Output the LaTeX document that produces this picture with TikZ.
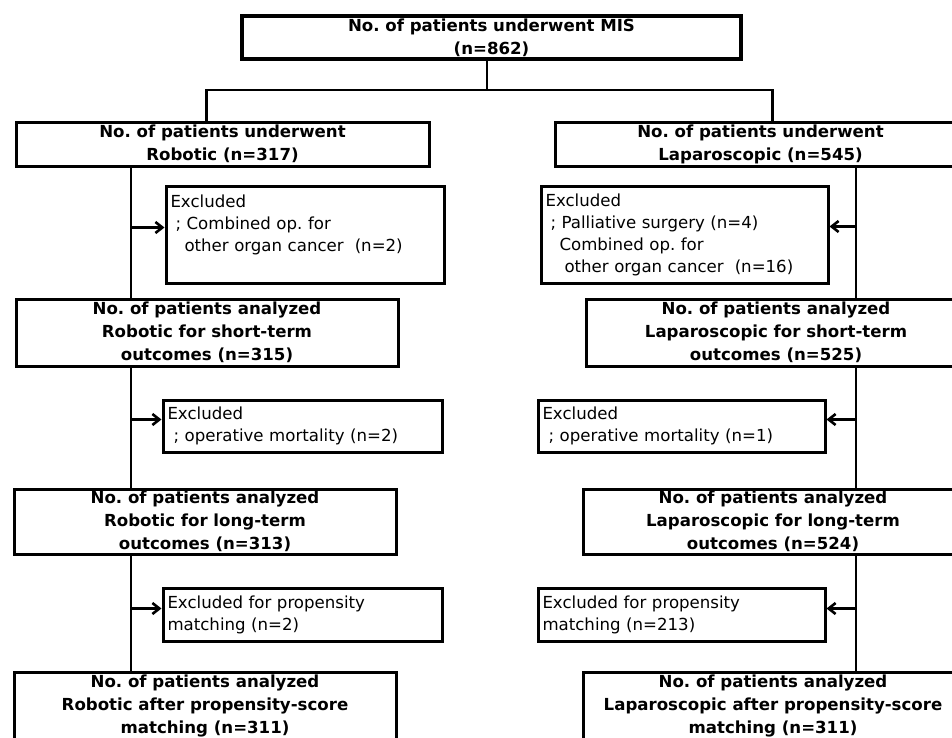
\documentclass[tikz,border=0pt]{standalone}
\usepackage{fontspec}
\setmainfont{DejaVu Sans}
\usetikzlibrary{arrows.meta}
\frenchspacing

\begin{document}
\begin{tikzpicture}[x=1pt, y=-1pt,
        mainbox/.style={rectangle, draw, line width=3pt, anchor=north west,
                     align=center, inner sep=0pt,
                     font=\fontsize{16.6}{23}\selectfont\bfseries},
        topbox/.style={mainbox, line width=4pt},
        exbox/.style={rectangle, draw, line width=3pt, anchor=north west,
                     align=left, inner xsep=4.5pt, inner ysep=0pt,
                     font=\fontsize{16.6}{22}\selectfont},
        link/.style={line width=2.6pt},
        arr/.style={-{Straight Barb[length=7pt, width=11pt]}, line width=2.6pt}
    ]
        \useasboundingbox (0,0) rectangle (952,737);
        \clip (0,0) rectangle (952,737);
        % main column boxes
        \node[topbox, minimum width=499pt, minimum height=43pt] (mis) at (240,14)
            {No. of patients underwent MIS\\(n=862)};
        \node[mainbox, minimum width=413pt, minimum height=44pt] (rob) at (14.5,120.5)
            {No. of patients underwent\\Robotic (n=317)};
        \node[mainbox, minimum width=411pt, minimum height=44pt] (lap) at (553.5,120.5)
            {No. of patients underwent\\Laparoscopic (n=545)};
        \node[mainbox, minimum width=382pt, minimum height=67pt] (robS) at (14.5,297.5)
            {No. of patients analyzed\\Robotic for short-term\\outcomes (n=315)};
        \node[mainbox, minimum width=380pt, minimum height=67pt] (lapS) at (584.5,297.5)
            {No. of patients analyzed\\Laparoscopic for short-term\\outcomes (n=525)};
        \node[mainbox, minimum width=382pt, minimum height=65pt] (robL) at (12.5,487.5)
            {No. of patients analyzed\\Robotic for long-term\\outcomes (n=313)};
        \node[mainbox, minimum width=380pt, minimum height=65pt] (lapL) at (581.5,487.5)
            {No. of patients analyzed\\Laparoscopic for long-term\\outcomes (n=524)};
        \node[mainbox, minimum width=382pt, minimum height=67pt] (robP) at (12.5,670.5)
            {No. of patients analyzed\\Robotic after propensity-score\\matching (n=311)};
        \node[mainbox, minimum width=380pt, minimum height=67pt] (lapP) at (581.5,670.5)
            {No. of patients analyzed\\Laparoscopic after propensity-score\\matching (n=311)};
        % exclusion boxes
        \node[exbox, text width=269pt, minimum height=97pt] (exr1) at (164.5,184.5)
            {Excluded\\\hspace*{5pt}; Combined op. for\\\hspace*{14pt}other organ cancer\ \ (n=2)\\\mbox{}};
        \node[exbox, text width=278pt, minimum height=97pt] (exl1) at (539.5,184.5)
            {Excluded\\\hspace*{5pt}; Palliative surgery (n=4)\\\hspace*{14pt}Combined op. for\\\hspace*{19pt}other organ cancer\ \ (n=16)};
        \node[exbox, text width=270pt, minimum height=52pt] (exr2) at (161.5,398.5)
            {Excluded\\\hspace*{6pt}; operative mortality (n=2)};
        \node[exbox, text width=278pt, minimum height=52pt] (exl2) at (536.5,398.5)
            {Excluded\\\hspace*{6pt}; operative mortality (n=1)};
        \node[exbox, text width=270pt, minimum height=53pt] (exr3) at (161.5,586.5)
            {Excluded for propensity\\matching (n=2)};
        \node[exbox, text width=278pt, minimum height=53pt] (exl3) at (536.5,586.5)
            {Excluded for propensity\\matching (n=213)};
        % connectors
        \coordinate (fork) at (487,90);
        \coordinate (lt) at (131,0);
        \coordinate (rt) at (856,0);
        \draw[link] (mis.south -| fork) -- (fork);
        \draw[link] ([xshift=-16pt]rob.north) |- (fork) -| ([xshift=12pt]lap.north);
        \draw[link] (rob.south -| lt) -- (robS.north -| lt);
        \draw[link] (robS.south -| lt) -- (robL.north -| lt);
        \draw[link] (robL.south -| lt) -- (robP.north -| lt);
        \draw[link] (lap.south -| rt) -- (lapS.north -| rt);
        \draw[link] (lapS.south -| rt) -- (lapL.north -| rt);
        \draw[link] (lapL.south -| rt) -- (lapP.north -| rt);
        \draw[arr] ([yshift=7pt]exr1.west -| lt) -- ([yshift=7pt]exr1.west);
        \draw[arr] ([yshift=6.5pt]exr2.west -| lt) -- ([yshift=6.5pt]exr2.west);
        \draw[arr] ([yshift=6pt]exr3.west -| lt) -- ([yshift=6pt]exr3.west);
        \draw[arr] ([yshift=8pt]exl1.east -| rt) -- ([yshift=8pt]exl1.east);
        \draw[arr] ([yshift=6.5pt]exl2.east -| rt) -- ([yshift=6.5pt]exl2.east);
        \draw[arr] ([yshift=6pt]exl3.east -| rt) -- ([yshift=6pt]exl3.east);
    \end{tikzpicture}
\end{document}
